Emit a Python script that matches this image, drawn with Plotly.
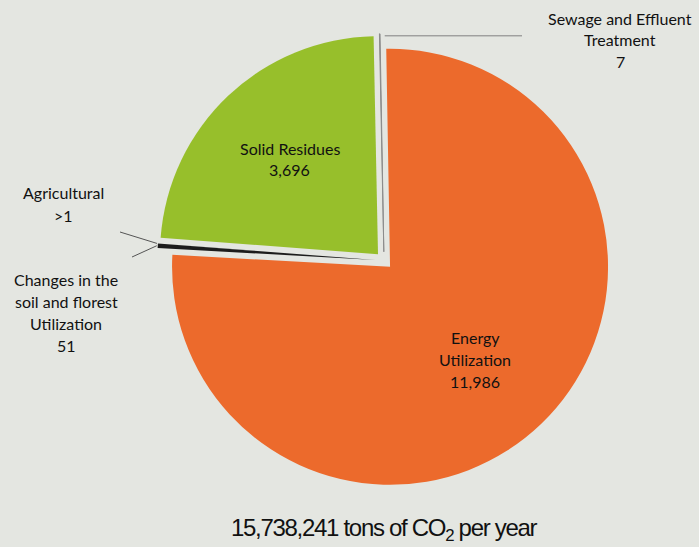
import math
import plotly.graph_objects as go

# ---- data ----
categories = ["Energy Utilization", "Changes in the soil and florest Utilization",
              "Agricultural", "Solid Residues", "Sewage and Effluent Treatment"]
values = [11986, 51, 0.5, 3696, 7]
value_text = ["11,986", "51", ">1", "3,696", "7"]
label_lines = [["Energy", "Utilization"],
               ["Changes in the", "soil and florest", "Utilization"],
               ["Agricultural"],
               ["Solid Residues"],
               ["Sewage and Effluent", "Treatment"]]
title_text = "15,738,241 tons of CO<sub>2</sub> per year"

# ---- style / layout ----
colors = ["#ec6a2c", "#1c1c1c", "#444444", "#97bf2b", "#8c8c8c"]
line_w = [0, 0, 0, 0, 1]
line_c = ["#ec6a2c", "#1c1c1c", "#444444", "#97bf2b", "#8c8c8c"]
BG = "#e4e6e1"
W, H = 699, 547
CX, CY, R, PULL, ROT = 384.0, 260.5, 218.0, 0.04, -1
RMAX = R * (1 + PULL)
label_pos = [(475, 337), (66, 279), (63, 193), (289.5, 148), (620, 18)]
LINE_H = 22
LABEL_FONT = dict(family="Lato, Noto Sans, sans-serif", size=16, color="#111111")

dom_x = [(CX - RMAX) / W, (CX + RMAX) / W]
dom_y = [1 - (CY + RMAX) / H, 1 - (CY - RMAX) / H]

fig = go.Figure(go.Pie(
    labels=categories, values=values, sort=False, direction="clockwise",
    rotation=ROT, pull=[PULL] * len(values), textinfo="none", hoverinfo="label+value",
    marker=dict(colors=colors, line=dict(width=line_w, color=line_c)),
    domain=dict(x=dom_x, y=dom_y), showlegend=False,
))

def px(x, y):
    return x / W, 1 - y / H

annotations = []
for lines, vt, (lx, ly) in zip(label_lines, value_text, label_pos):
    for i, t in enumerate(lines + [vt]):
        ax, ay = px(lx, ly + i * LINE_H)
        annotations.append(dict(x=ax, y=ay, xref="paper", yref="paper", text=t,
                                showarrow=False, xanchor="center", yanchor="middle",
                                font=LABEL_FONT))

tx, ty = px(385, 529)
annotations.append(dict(x=tx, y=ty, xref="paper", yref="paper",
                        text='<span style="letter-spacing:-1.3px">' + title_text + '</span>',
                        showarrow=False, xanchor="center", yanchor="middle",
                        font=dict(family="Liberation Sans Narrow, Arial Narrow, Liberation Sans, sans-serif",
                                  size=24, color="#111111")))

# connector lines to the small slices
total = sum(values)
def tip(i, extra=1.0):
    start = ROT + 360 * sum(values[:i]) / total
    mid = math.radians(start + 180 * values[i] / total)
    rr = RMAX + extra
    return CX + rr * math.sin(mid), CY - rr * math.cos(mid)

shapes = []
def seg(p0, p1, color):
    x0, y0 = px(*p0)
    x1, y1 = px(*p1)
    shapes.append(dict(type="line", xref="paper", yref="paper", x0=x0, y0=y0, x1=x1, y1=y1,
                       line=dict(color=color, width=1)))

seg((120, 232), tip(2), "#555555")
seg((132, 257), tip(1), "#555555")
sx, sy = tip(4)
seg((sx + 5, sy + 3), (522, sy + 3), "#808080")

fig.update_layout(width=W, height=H, margin=dict(l=0, r=0, t=0, b=0),
                  paper_bgcolor=BG, plot_bgcolor=BG,
                  annotations=annotations, shapes=shapes)
fig.write_html("out.html")
